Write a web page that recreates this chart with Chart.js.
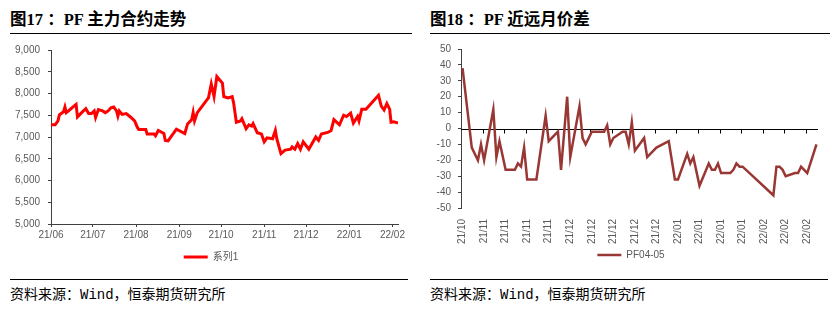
<!DOCTYPE html>
<html>
<head>
<meta charset="utf-8">
<script src="https://cdn.jsdelivr.net/npm/chart.js@4.4.1/dist/chart.umd.min.js"></script>
<style>
  body { margin: 0; width: 838px; height: 321px; background: #fff; position: relative; overflow: hidden; }
  .title { position: absolute; top: 6px; font: bold 16.5px "Liberation Serif", "Noto Sans CJK SC", serif; color: #000; white-space: nowrap; }
  .rule { position: absolute; height: 1px; background: #000; }
  .source { position: absolute; top: 283px; font: 14px "Liberation Mono", "Noto Sans CJK SC", monospace; color: #000; white-space: nowrap; }
  canvas { position: absolute; top: 36px; }
</style>
</head>
<body>
<div class="title" style="left:10px">图17 ：PF 主力合约走势</div>
<div class="title" style="left:430px">图18 ：PF 近远月价差</div>
<div class="rule" style="left:10px; top:33px; width:402px"></div>
<div class="rule" style="left:430px; top:33px; width:400px"></div>

<canvas id="priceChart" width="415" height="236" style="left:0"></canvas>
<canvas id="spreadChart" width="418" height="234" style="left:420px"></canvas>

<div class="rule" style="left:10px; top:279px; width:398px"></div>
<div class="rule" style="left:430px; top:279px; width:398px"></div>
<div class="source" style="left:10px">资料来源：Wind，恒泰期货研究所</div>
<div class="source" style="left:430px">资料来源：Wind，恒泰期货研究所</div>

<script>
// 图17 主力合约
const priceDates = [
  "2021-06-01", "2021-06-04", "2021-06-06", "2021-06-07", "2021-06-10", "2021-06-11",
  "2021-06-12", "2021-06-14", "2021-06-16", "2021-06-19", "2021-06-20", "2021-06-23",
  "2021-06-26", "2021-06-28", "2021-06-30", "2021-07-02", "2021-07-03", "2021-07-05",
  "2021-07-08", "2021-07-10", "2021-07-12", "2021-07-14", "2021-07-16", "2021-07-18",
  "2021-07-19", "2021-07-20", "2021-07-22", "2021-07-25", "2021-07-28", "2021-07-31",
  "2021-08-02", "2021-08-03", "2021-08-08", "2021-08-09", "2021-08-14", "2021-08-15",
  "2021-08-17", "2021-08-21", "2021-08-22", "2021-08-24", "2021-08-30", "2021-09-05",
  "2021-09-07", "2021-09-10", "2021-09-11", "2021-09-12", "2021-09-14", "2021-09-21",
  "2021-09-22", "2021-09-24", "2021-09-26", "2021-09-28", "2021-10-02", "2021-10-03",
  "2021-10-06", "2021-10-09", "2021-10-10", "2021-10-12", "2021-10-15", "2021-10-16",
  "2021-10-19", "2021-10-21", "2021-10-23", "2021-10-24", "2021-10-27", "2021-10-30",
  "2021-11-01", "2021-11-03", "2021-11-07", "2021-11-09", "2021-11-10", "2021-11-13",
  "2021-11-16", "2021-11-20", "2021-11-21", "2021-11-23", "2021-11-25", "2021-11-27",
  "2021-11-29", "2021-12-03", "2021-12-08", "2021-12-10", "2021-12-12", "2021-12-17",
  "2021-12-19", "2021-12-21", "2021-12-25", "2021-12-28", "2021-12-30", "2022-01-02",
  "2022-01-04", "2022-01-07", "2022-01-08", "2022-01-10", "2022-01-13", "2022-01-22",
  "2022-01-24", "2022-01-26", "2022-01-28", "2022-01-30", "2022-01-31", "2022-02-02",
  "2022-02-05"
];
const priceValues = [
  7280, 7280, 7370, 7510, 7580, 7690,
  7560, 7610, 7670, 7750, 7460, 7560,
  7650, 7540, 7540, 7600, 7450, 7630,
  7600, 7560, 7600, 7670, 7690, 7600,
  7480, 7600, 7520, 7540, 7460, 7370,
  7220, 7170, 7170, 7070, 7070, 7030,
  7150, 7080, 6920, 6910, 7180, 7080,
  7300, 7400, 7560, 7370, 7560, 7860,
  7900, 8220, 7930, 8390, 8240, 7930,
  7900, 7930, 7790, 7340, 7370, 7420,
  7190, 7280, 7250, 7310, 7100, 7070,
  6890, 6980, 6960, 7150, 6960, 6620,
  6700, 6720, 6770, 6720, 6850, 6720,
  6890, 6720, 7000, 6920, 7070, 7110,
  7150, 7400, 7280, 7500, 7470, 7550,
  7320, 7470, 7370, 7640, 7640, 7960,
  7710, 7620, 7770, 7640, 7340, 7350,
  7320
];
const priceTickLabels = ["21/06", "21/07", "21/08", "21/09", "21/10", "21/11", "21/12", "22/01", "22/02"];
const priceAxisEnd = "2022-02-05";

// 图18 近远月价差
const spreadDates = [
  "2021-10-29", "2021-11-01", "2021-11-03", "2021-11-04", "2021-11-05", "2021-11-08",
  "2021-11-09", "2021-11-10", "2021-11-12", "2021-11-15", "2021-11-16", "2021-11-17",
  "2021-11-18", "2021-11-19", "2021-11-22", "2021-11-25", "2021-11-26", "2021-11-29",
  "2021-11-30", "2021-12-02", "2021-12-03", "2021-12-06", "2021-12-07", "2021-12-08",
  "2021-12-10", "2021-12-14", "2021-12-15", "2021-12-16", "2021-12-17", "2021-12-20",
  "2021-12-21", "2021-12-22", "2021-12-23", "2021-12-24", "2021-12-27", "2021-12-28",
  "2021-12-31", "2022-01-04", "2022-01-06", "2022-01-07", "2022-01-10", "2022-01-11",
  "2022-01-12", "2022-01-14", "2022-01-17", "2022-01-18", "2022-01-19", "2022-01-20",
  "2022-01-21", "2022-01-24", "2022-01-25", "2022-01-26", "2022-01-27", "2022-01-28",
  "2022-02-07", "2022-02-08", "2022-02-09", "2022-02-10", "2022-02-11", "2022-02-14",
  "2022-02-15", "2022-02-16", "2022-02-18", "2022-02-21"
];
const spreadValues = [
  38, -12, -20, -10, -20, 12,
  -18, -8, -26, -26, -22, -24,
  -12, -32, -32, 8, -8, -2,
  -26, 20, -18, 14, -6, -10,
  -2, -2, 2, -10, -6, -2,
  -2, -10, 4, -14, -6, -18,
  -12, -8, -32, -32, -16, -22,
  -18, -36, -22, -26, -26, -22,
  -28, -28, -26, -22, -24, -24,
  -42, -24, -24, -26, -30, -28,
  -28, -24, -28, -10
];
const spreadTickLabels = [
  "21/10", "21/11", "21/11", "21/11", "21/11", "21/12", "21/12", "21/12", "21/12",
  "21/12", "22/01", "22/01", "22/01", "22/01", "22/02", "22/02", "22/02"
];
const spreadTickStep = 7; // 每 7 天一个标签

const DAY = 86400000;
const dayOffset = (d, start) => Math.round((Date.parse(d) - Date.parse(start)) / DAY);

Chart.defaults.font.family = '"Liberation Sans", Arial, "Noto Sans CJK SC", sans-serif';
Chart.defaults.font.size = 10;
Chart.defaults.color = "#595959";

const axisColor = "#404040";

// 图例整体右移一点
const legendShift = {
  id: "legendShift",
  afterLayout(chart, args, opts) {
    chart.legend.left += opts.dx;
    chart.legend.right += opts.dx;
  },
};

const priceStart = priceDates[0];
const priceTickDays = priceTickLabels.map((l) =>
  dayOffset("20" + l.replace("/", "-") + "-01", priceStart)
);

new Chart(document.getElementById("priceChart"), {
  type: "line",
  data: {
    datasets: [
      {
        label: "系列1",
        data: priceDates.map((d, i) => ({ x: dayOffset(d, priceStart), y: priceValues[i] })),
        borderColor: "#FF0000",
        backgroundColor: "#FF0000",
        borderWidth: 3,
        pointRadius: 0,
        tension: 0,
      },
    ],
  },
  plugins: [legendShift],
  options: {
    responsive: false,
    animation: false,
    layout: { padding: { top: 10, right: 17, left: 0, bottom: 0 } },
    plugins: {
      tooltip: { enabled: false },
      legendShift: { dx: 12 },
      legend: {
        position: "bottom",
        labels: {
          usePointStyle: true,
          pointStyle: "line",
          pointStyleWidth: 24,
          padding: 8,
        },
      },
    },
    scales: {
      x: {
        type: "linear",
        min: 0,
        max: dayOffset(priceAxisEnd, priceStart),
        afterBuildTicks: (scale) => {
          scale.ticks = priceTickDays.map((v) => ({ value: v }));
        },
        afterFit: (scale) => {
          scale.height = 20;
        },
        ticks: {
          autoSkip: false,
          maxRotation: 0,
          padding: 2,
          callback: (v, i) => priceTickLabels[i],
        },
        grid: { drawOnChartArea: false, tickLength: 3, color: axisColor },
        border: { color: axisColor },
      },
      y: {
        min: 5000,
        max: 9000,
        afterFit: (scale) => {
          scale.width = 51;
        },
        ticks: {
          stepSize: 500,
          padding: 8,
          callback: (v) => v.toLocaleString("en-US"),
        },
        grid: { drawOnChartArea: false, tickLength: 3, color: axisColor },
        border: { color: axisColor },
      },
    },
  },
});

// 零轴与刻度线
const zeroAxis = {
  id: "zeroAxis",
  beforeDatasetsDraw(chart) {
    const { ctx, chartArea, scales } = chart;
    const y0 = Math.round(scales.y.getPixelForValue(0)) + 0.5;
    ctx.save();
    ctx.strokeStyle = "#000";
    ctx.lineWidth = 1;
    ctx.beginPath();
    ctx.moveTo(chartArea.left, y0);
    ctx.lineTo(chartArea.right, y0);
    spreadTickLabels.forEach((l, i) => {
      if (i === 0) return;
      const x = Math.round(scales.x.getPixelForValue(i * spreadTickStep - 0.5)) + 0.5;
      ctx.moveTo(x, y0);
      ctx.lineTo(x, y0 + 4);
    });
    ctx.stroke();
    ctx.restore();
  },
};

const spreadStart = spreadDates[0];

new Chart(document.getElementById("spreadChart"), {
  type: "line",
  data: {
    datasets: [
      {
        label: "PF04-05",
        data: spreadDates.map((d, i) => ({ x: dayOffset(d, spreadStart), y: spreadValues[i] })),
        borderColor: "#993735",
        backgroundColor: "#993735",
        borderWidth: 2.5,
        pointRadius: 0,
        tension: 0,
      },
    ],
  },
  plugins: [zeroAxis, legendShift],
  options: {
    responsive: false,
    animation: false,
    layout: { padding: { top: 10, right: 20, left: 0, bottom: 0 } },
    plugins: {
      tooltip: { enabled: false },
      legendShift: { dx: 12 },
      legend: {
        position: "bottom",
        labels: {
          usePointStyle: true,
          pointStyle: "line",
          pointStyleWidth: 24,
          padding: 6,
        },
      },
    },
    scales: {
      x: {
        type: "linear",
        min: -0.5,
        max: 115.5,
        afterBuildTicks: (scale) => {
          scale.ticks = spreadTickLabels.map((l, i) => ({ value: i * spreadTickStep }));
        },
        afterFit: (scale) => {
          scale.height = 36;
        },
        ticks: {
          autoSkip: false,
          minRotation: 90,
          maxRotation: 90,
          padding: 3,
          callback: (v, i) => spreadTickLabels[i],
        },
        grid: { display: false },
        border: { display: false },
      },
      y: {
        min: -50,
        max: 50,
        afterFit: (scale) => {
          scale.width = 41;
        },
        ticks: { stepSize: 10, padding: 7 },
        grid: { drawOnChartArea: false, tickLength: 3, color: axisColor },
        border: { color: axisColor },
      },
    },
  },
});
</script>
</body>
</html>
